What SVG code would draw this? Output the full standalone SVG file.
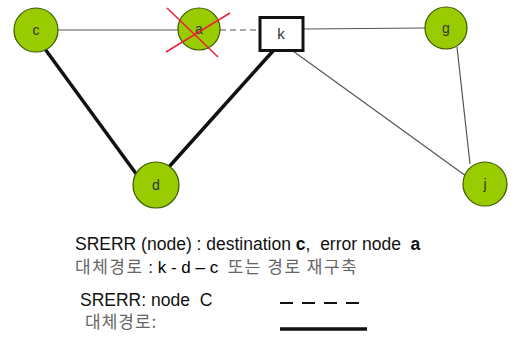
<svg xmlns="http://www.w3.org/2000/svg" width="516" height="337" viewBox="0 0 516 337">
<style>
.node{fill:#99cc00;stroke:#3a5a00;stroke-width:1.2}
.lbl{font-family:"Liberation Sans",Arial,sans-serif;font-size:14px;fill:#333;text-anchor:middle}
.thin{stroke:#555;stroke-width:1.2;fill:none}
.thick{stroke:#111;stroke-width:3.5;fill:none}
.t{font-family:"Liberation Sans","Noto Sans CJK KR",sans-serif;fill:#111;white-space:pre}
.k{fill:#666;font-family:"Noto Sans CJK KR",sans-serif;letter-spacing:1px}
.k2{fill:#666;font-family:"Noto Sans CJK KR",sans-serif;letter-spacing:1.5px;font-size:17px}
</style>
<rect width="516" height="337" fill="#ffffff"/>
<g id="connectors">
<line class="thin" x1="58" y1="30" x2="178" y2="30"/>
<line x1="220" y1="30" x2="259" y2="30" stroke="#555" stroke-width="1.2" stroke-dasharray="6 4"/>
<line class="thin" x1="303" y1="29" x2="425" y2="28"/>
<line class="thin" x1="457" y1="47" x2="470" y2="164"/>
<line class="thin" x1="293" y1="51" x2="466" y2="176"/>
<line class="thick" x1="45" y1="49" x2="137" y2="175"/>
<line class="thick" x1="168" y1="168" x2="273" y2="51"/>
</g>
<g id="node-c"><circle class="node" cx="36" cy="30" r="22"/><text class="lbl" x="36" y="35">c</text></g>
<g id="node-a"><circle class="node" cx="199" cy="29" r="21"/><text class="lbl" x="199" y="34">a</text>
<line x1="167" y1="8" x2="218" y2="57" stroke="#e8203a" stroke-width="1.5"/>
<line x1="230" y1="13" x2="166" y2="52" stroke="#e8203a" stroke-width="1.5"/></g>
<g id="node-k"><rect x="260" y="17.5" width="43" height="33" fill="#fff" stroke="#111" stroke-width="3"/><text class="lbl" x="281" y="39" style="font-size:15px">k</text></g>
<g id="node-g"><circle class="node" cx="446" cy="28" r="21"/><text class="lbl" x="446" y="33">g</text></g>
<g id="node-d"><circle class="node" cx="156" cy="185" r="23"/><text class="lbl" x="156" y="190">d</text></g>
<g id="node-j"><circle class="node" cx="485" cy="184" r="22"/><text class="lbl" x="485" y="189">j</text></g>
<g id="legend">
<text class="t" x="75" y="249.5" font-size="17.5" xml:space="preserve">SRERR (node) : destination <tspan font-weight="bold">c</tspan>,  error node  <tspan font-weight="bold">a</tspan></text>
<text class="t" x="75" y="272.5" font-size="17" xml:space="preserve"><tspan class="k2">대체경로</tspan> : <tspan fill="#000">k - d – c</tspan>  <tspan class="k2">또는 경로 재구축</tspan></text>
<text class="t" x="80" y="306" font-size="17.5" xml:space="preserve">SRERR: node  C</text>
<line x1="280" y1="303" x2="359" y2="303" stroke="#111" stroke-width="2" stroke-dasharray="13 9"/>
<text class="t k" x="85" y="328" font-size="17">대체경로:</text>
<line x1="280" y1="329" x2="367" y2="329" stroke="#111" stroke-width="3.5"/>
</g>
</svg>
